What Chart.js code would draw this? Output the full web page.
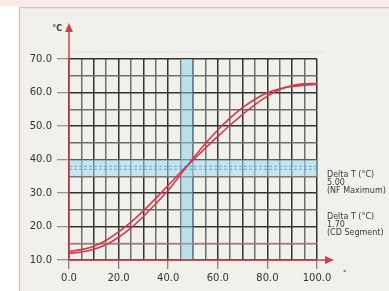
<!DOCTYPE html>
<html>
<head>
<meta charset="utf-8">
<script src="https://cdn.jsdelivr.net/npm/chart.js@4/dist/chart.umd.min.js"></script>
<style>
html,body{margin:0;padding:0;background:#fff;}
canvas{display:block;}
</style>
</head>
<body>
<canvas id="c" width="389" height="291"></canvas>
<script>
// ---- data ----
const xValues = [0,5,10,15,20,25,30,35,40,45,50,55,60,65,70,75,80,85,90,95,100];
const curveA  = [12.6,13.1,14.1,15.9,18.4,21.3,24.7,28.4,32.3,36.2,39.8,43.4,46.9,50.3,53.5,56.4,58.9,60.9,62.1,62.6,62.7];
const curveB  = [12.0,12.4,13.2,14.6,16.8,19.6,23.0,26.8,30.8,35.5,40.3,44.8,48.8,52.4,55.5,58.0,59.9,61.1,61.8,62.2,62.4];
const xTickLabels = {0:'0.0',20:'20.0',40:'40.0',60:'60.0',80:'80.0',100:'100.0'};
const yTickLabels = {10:'10.0',20:'20.0',30:'30.0',40:'40.0',50:'50.0',60:'60.0',70:'70.0'};
const vBand = [45, 50];      // x-range of the vertical blue band
const hBand = [35, 40];      // y-range of the horizontal blue band
const pinkLevel = [15];      // pink reference level
const notes = [['Delta T (°C)','5.00','(NF Maximum)'],['Delta T (°C)','1.70','(CD Segment)']];

const toPts = arr => xValues.map((x,i)=>({x:x,y:arr[i]}));

const deco = {
  id:'deco',
  beforeDraw(chart){
    const c = chart.ctx;
    c.save();
    c.fillStyle='#ffffff'; c.fillRect(0,0,389,291);
    c.fillStyle='#fbe9e8'; c.fillRect(0,0,389,6);
    c.fillStyle='#f1f0eb'; c.fillRect(19,7,370,284);
    c.strokeStyle='#e9bcbc'; c.lineWidth=1.5;
    c.strokeRect(19.5,7.5,375,290);
    c.restore();
  },
  beforeDatasetsDraw(chart){
    const c = chart.ctx, xs = chart.scales.x, ys = chart.scales.y, a = chart.chartArea;
    c.save();
    // vertical band
    const x1 = xs.getPixelForValue(vBand[0]), x2 = xs.getPixelForValue(vBand[1]);
    c.fillStyle='rgba(140,205,232,0.5)';
    c.fillRect(x1, a.top, x2-x1, a.bottom-a.top);
    // horizontal band
    const y1 = ys.getPixelForValue(hBand[1]), y2 = ys.getPixelForValue(hBand[0]);
    c.fillStyle='rgba(165,218,240,0.55)';
    c.fillRect(a.left, y1, a.right-a.left, y2-y1);
    c.strokeStyle='rgba(110,170,215,0.85)'; c.lineWidth=1.2; c.setLineDash([3,2]);
    const ym = (y1+y2)/2;
    c.beginPath(); c.moveTo(a.left, ym-1.5); c.lineTo(a.right, ym-1.5); c.stroke();
    c.beginPath(); c.moveTo(a.left, ym+1.5); c.lineTo(a.right, ym+1.5); c.stroke();
    c.setLineDash([]);
    // pink level
    pinkLevel.forEach(v=>{
      const y = ys.getPixelForValue(v);
      c.strokeStyle='rgba(225,130,150,0.45)'; c.lineWidth=1.5;
      c.beginPath(); c.moveTo(a.left,y); c.lineTo(a.right,y); c.stroke();
    });
    // faint dotted line above plot
    c.strokeStyle='#d6d4cf'; c.lineWidth=1; c.setLineDash([1,2]);
    c.beginPath(); c.moveTo(a.left+2, a.top-7.5); c.lineTo(a.right+8, a.top-7.5); c.stroke();
    c.setLineDash([]);
    c.restore();
  },
  afterDatasetsDraw(chart){
    const c = chart.ctx, a = chart.chartArea;
    c.save();
    const red='#d63c4a';
    c.strokeStyle=red; c.fillStyle=red; c.lineWidth=1.5;
    // y axis
    c.beginPath(); c.moveTo(a.left, a.bottom); c.lineTo(a.left, 30); c.stroke();
    c.beginPath(); c.moveTo(a.left, 23); c.lineTo(a.left-4, 32); c.lineTo(a.left+4, 32); c.closePath(); c.fill();
    // x axis
    c.beginPath(); c.moveTo(a.left, a.bottom); c.lineTo(326, a.bottom); c.stroke();
    c.beginPath(); c.moveTo(334, a.bottom); c.lineTo(325, a.bottom-4); c.lineTo(325, a.bottom+4); c.closePath(); c.fill();
    // unit labels
    c.fillStyle='#333';
    c.font='bold 8px "DejaVu Sans"';
    c.textAlign='right'; c.textBaseline='middle';
    c.fillText('°C', 62, 29);
    c.textAlign='left';
    c.font='7px "DejaVu Sans"';
    c.fillText('°', 343, 273);
    // notes
    c.font='8px "DejaVu Sans"';
    c.fillStyle='#3a3a3a';
    const starts=[175,217];
    notes.forEach((blk,bi)=>blk.forEach((t,li)=>c.fillText(t, 327, starts[bi]+li*8)));
    c.restore();
  }
};

const gridColor = ctx => (ctx.tick && ctx.tick.value % 10 === 0) ? '#333333' : '#6e6e6e';

new Chart(document.getElementById('c'), {
  type:'line',
  data:{
    datasets:[
      {data:toPts(curveA), borderColor:'#d23a4c', borderWidth:1.6, pointRadius:0, tension:0.4, fill:false},
      {data:toPts(curveB), borderColor:'#d23a4c', borderWidth:1.6, pointRadius:0, tension:0.4, fill:false}
    ]
  },
  options:{
    responsive:false,
    animation:false,
    devicePixelRatio:1,
    layout:{padding:{left:0,top:59,right:72,bottom:0}},
    plugins:{legend:{display:false},tooltip:{enabled:false}},
    scales:{
      x:{
        type:'linear', min:0, max:100,
        border:{display:false},
        afterFit(s){ s.height = 31; },
        grid:{
          color:gridColor, lineWidth:1.5,
          tickLength:9,
          tickColor: ctx => (ctx.tick && xTickLabels[ctx.tick.value]!==undefined) ? '#666' : 'rgba(0,0,0,0)',
          tickWidth:1
        },
        ticks:{
          stepSize:5, autoSkip:false, maxRotation:0, padding:3,
          color:'#333', font:{family:'DejaVu Sans', size:10},
          callback: v => xTickLabels[v] !== undefined ? xTickLabels[v] : ''
        }
      },
      y:{
        type:'linear', min:10, max:70,
        border:{display:false},
        afterFit(s){ s.width = 69; },
        grid:{
          color:gridColor, lineWidth:1.5,
          tickLength:12,
          tickColor: ctx => (ctx.tick && yTickLabels[ctx.tick.value]!==undefined) ? '#777' : 'rgba(0,0,0,0)',
          tickWidth:1
        },
        ticks:{
          stepSize:5, autoSkip:false, padding:5,
          color:'#333', font:{family:'DejaVu Sans', size:10},
          callback: v => yTickLabels[v] !== undefined ? yTickLabels[v] : ''
        }
      }
    }
  },
  plugins:[deco]
});
</script>
</body>
</html>
